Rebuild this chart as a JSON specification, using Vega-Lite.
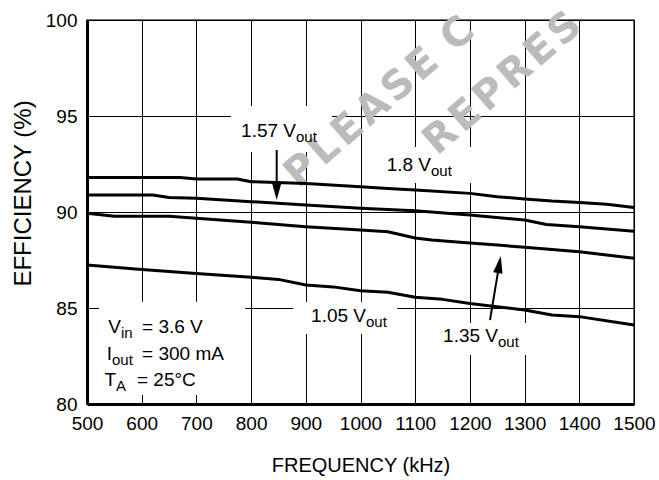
{
  "$schema": "https://vega.github.io/schema/vega-lite/v6.json",
  "width": 547,
  "height": 384,
  "autosize": {"type": "none"},
  "padding": {"left": 87, "top": 20, "right": 25, "bottom": 76},
  "background": "white",
  "config": {
    "font": "Liberation Sans",
    "view": {"stroke": "#444444", "strokeWidth": 1.5},
    "axis": {
      "grid": true, "gridColor": "black", "gridWidth": 1, "gridOpacity": 1,
      "domain": true, "domainColor": "black", "domainWidth": 3,
      "ticks": false, "tickSize": 0,
      "labelFont": "Liberation Sans", "labelFontSize": 19, "labelColor": "black",
      "labelPadding": 10, "labelOverlap": false, "labelFlush": false,
      "titleFont": "Liberation Sans", "titleFontWeight": "normal", "titleColor": "black"
    }
  },
  "datasets": {
    "curves": [
      {"series": "1.8", "freq": 500, "eff": 91.8},
      {"series": "1.8", "freq": 670, "eff": 91.8},
      {"series": "1.8", "freq": 700, "eff": 91.72},
      {"series": "1.8", "freq": 775, "eff": 91.72},
      {"series": "1.8", "freq": 800, "eff": 91.58},
      {"series": "1.8", "freq": 900, "eff": 91.49},
      {"series": "1.8", "freq": 1000, "eff": 91.32},
      {"series": "1.8", "freq": 1050, "eff": 91.22},
      {"series": "1.8", "freq": 1100, "eff": 91.15},
      {"series": "1.8", "freq": 1200, "eff": 90.97},
      {"series": "1.8", "freq": 1250, "eff": 90.8},
      {"series": "1.8", "freq": 1300, "eff": 90.68},
      {"series": "1.8", "freq": 1350, "eff": 90.57},
      {"series": "1.8", "freq": 1400, "eff": 90.5},
      {"series": "1.8", "freq": 1450, "eff": 90.4},
      {"series": "1.8", "freq": 1500, "eff": 90.24},
      {"series": "1.57", "freq": 500, "eff": 90.89},
      {"series": "1.57", "freq": 620, "eff": 90.89},
      {"series": "1.57", "freq": 650, "eff": 90.75},
      {"series": "1.57", "freq": 700, "eff": 90.72},
      {"series": "1.57", "freq": 800, "eff": 90.54},
      {"series": "1.57", "freq": 900, "eff": 90.36},
      {"series": "1.57", "freq": 1000, "eff": 90.2},
      {"series": "1.57", "freq": 1100, "eff": 90.07},
      {"series": "1.57", "freq": 1200, "eff": 89.84},
      {"series": "1.57", "freq": 1300, "eff": 89.58},
      {"series": "1.57", "freq": 1340, "eff": 89.35},
      {"series": "1.57", "freq": 1400, "eff": 89.23},
      {"series": "1.57", "freq": 1500, "eff": 89.0},
      {"series": "1.35", "freq": 500, "eff": 89.93},
      {"series": "1.35", "freq": 550, "eff": 89.78},
      {"series": "1.35", "freq": 650, "eff": 89.78},
      {"series": "1.35", "freq": 700, "eff": 89.67},
      {"series": "1.35", "freq": 800, "eff": 89.46},
      {"series": "1.35", "freq": 900, "eff": 89.23},
      {"series": "1.35", "freq": 1000, "eff": 89.06},
      {"series": "1.35", "freq": 1050, "eff": 88.97},
      {"series": "1.35", "freq": 1100, "eff": 88.65},
      {"series": "1.35", "freq": 1130, "eff": 88.54},
      {"series": "1.35", "freq": 1200, "eff": 88.38},
      {"series": "1.35", "freq": 1250, "eff": 88.28},
      {"series": "1.35", "freq": 1300, "eff": 88.16},
      {"series": "1.35", "freq": 1400, "eff": 87.93},
      {"series": "1.35", "freq": 1500, "eff": 87.59},
      {"series": "1.05", "freq": 500, "eff": 87.24},
      {"series": "1.05", "freq": 600, "eff": 87.01},
      {"series": "1.05", "freq": 700, "eff": 86.8},
      {"series": "1.05", "freq": 800, "eff": 86.6},
      {"series": "1.05", "freq": 850, "eff": 86.49},
      {"series": "1.05", "freq": 900, "eff": 86.2},
      {"series": "1.05", "freq": 950, "eff": 86.1},
      {"series": "1.05", "freq": 1000, "eff": 85.9},
      {"series": "1.05", "freq": 1050, "eff": 85.82},
      {"series": "1.05", "freq": 1100, "eff": 85.56},
      {"series": "1.05", "freq": 1150, "eff": 85.45},
      {"series": "1.05", "freq": 1200, "eff": 85.24},
      {"series": "1.05", "freq": 1300, "eff": 84.9},
      {"series": "1.05", "freq": 1350, "eff": 84.64},
      {"series": "1.05", "freq": 1400, "eff": 84.55},
      {"series": "1.05", "freq": 1500, "eff": 84.11}
    ],
    "boxes": [
      {"freq": 763, "freq2": 948, "eff": 95.52, "eff2": 93.12},
      {"freq": 1063, "freq2": 1211, "eff": 93.39, "eff2": 91.51},
      {"freq": 877, "freq2": 1067, "eff": 85.31, "eff2": 83.65},
      {"freq": 1154, "freq2": 1313, "eff": 84.22, "eff2": 82.55},
      {"freq": 522, "freq2": 789, "eff": 85.33, "eff2": 80.47}
    ],
    "labels": [
      {"freq": 882.1, "eff": 93.91, "text": "1.57 V", "part": "main"},
      {"freq": 882.1, "eff": 93.91, "text": "out", "part": "sub"},
      {"freq": 1128.9, "eff": 92.14, "text": "1.8 V", "part": "main"},
      {"freq": 1128.9, "eff": 92.14, "text": "out", "part": "sub"},
      {"freq": 1010.1, "eff": 84.27, "text": "1.05 V", "part": "main"},
      {"freq": 1010.1, "eff": 84.27, "text": "out", "part": "sub"},
      {"freq": 1251.4, "eff": 83.23, "text": "1.35 V", "part": "main"},
      {"freq": 1251.4, "eff": 83.23, "text": "out", "part": "sub"},
      {"freq": 562.2, "eff": 83.7, "text": "V", "part": "main"},
      {"freq": 562.2, "eff": 83.7, "text": "in", "part": "sub"},
      {"freq": 600.6, "eff": 83.7, "text": "= 3.6 V", "part": "rest"},
      {"freq": 545.7, "eff": 82.29, "text": "I", "part": "main"},
      {"freq": 545.7, "eff": 82.29, "text": "out", "part": "sub"},
      {"freq": 600.6, "eff": 82.29, "text": "= 300 mA", "part": "rest"},
      {"freq": 553.0, "eff": 80.95, "text": "T", "part": "main"},
      {"freq": 553.0, "eff": 80.95, "text": "A", "part": "sub"},
      {"freq": 591.4, "eff": 80.95, "text": "= 25°C", "part": "rest"}
    ],
    "arrows": [
      {"freq": 846.8, "eff": 93.23, "freq2": 846.8, "eff2": 91.3},
      {"freq": 1236.8, "eff": 84.375, "freq2": 1253.5, "eff2": 87.245}
    ],
    "heads": [
      {"freq": 846.8, "eff": 90.625, "dir": "down"},
      {"freq": 1256.3, "eff": 87.71, "dir": "up"}
    ],
    "watermark": [
      {"freq": 886, "eff": 91.2, "text": "P\u200aL\u200aE\u200aA\u200aS\u200aE\u00a0\u200aC"},
      {"freq": 1140, "eff": 92.9, "text": "R\u200aE\u200aP\u200aR\u200aE\u200aS"}
    ]
  },
  "encoding": {
    "x": {
      "field": "freq", "type": "quantitative",
      "scale": {"domain": [500, 1500], "nice": false, "zero": false},
      "axis": {
        "values": [500, 600, 700, 800, 900, 1000, 1100, 1200, 1300, 1400, 1500],
        "format": "d",
        "title": "FREQUENCY (kHz)", "titleFontSize": 20, "titlePadding": 22
      }
    },
    "y": {
      "field": "eff", "type": "quantitative",
      "scale": {"domain": [80, 100], "nice": false, "zero": false},
      "axis": {
        "values": [80, 85, 90, 95, 100],
        "format": "d",
        "title": "EFFICIENCY (%)", "titleFontSize": 24, "titlePadding": 10,
        "titleY": 173
      }
    }
  },
  "layer": [
    {
      "data": {"name": "boxes"},
      "mark": {"type": "rect", "fill": "white", "stroke": null},
      "encoding": {
        "x2": {"field": "freq2"},
        "y2": {"field": "eff2"}
      }
    },
    {
      "data": {"name": "watermark"},
      "mark": {"type": "text", "align": "left", "baseline": "alphabetic", "angle": -41,
               "font": "DejaVu Sans", "fontSize": 40, "fontWeight": "bold", "color": "#bbbbbb"},
      "encoding": {"text": {"field": "text"}}
    },
    {
      "data": {"name": "curves"},
      "mark": {"type": "line", "color": "black", "strokeWidth": 3, "strokeJoin": "round"},
      "encoding": {"detail": {"field": "series"}}
    },
    {
      "data": {"name": "arrows"},
      "mark": {"type": "rule", "color": "black", "strokeWidth": 2},
      "encoding": {
        "x2": {"field": "freq2"},
        "y2": {"field": "eff2"}
      }
    },
    {
      "data": {"name": "heads"},
      "transform": [{"filter": "datum.dir === 'down'"}],
      "mark": {"type": "point", "shape": "M0,0L-0.55,2L0.55,2Z", "filled": true,
               "color": "black", "opacity": 1, "size": 324, "angle": 180, "strokeWidth": 0}
    },
    {
      "data": {"name": "heads"},
      "transform": [{"filter": "datum.dir === 'up'"}],
      "mark": {"type": "point", "shape": "M0,0L-0.55,2L0.55,2Z", "filled": true,
               "color": "black", "opacity": 1, "size": 300, "angle": 9.5, "strokeWidth": 0}
    },
    {
      "data": {"name": "labels"},
      "transform": [{"filter": "datum.part === 'main'"}],
      "mark": {"type": "text", "align": "right", "baseline": "alphabetic", "fontSize": 19, "color": "black"},
      "encoding": {"text": {"field": "text"}}
    },
    {
      "data": {"name": "labels"},
      "transform": [{"filter": "datum.part === 'sub'"}],
      "mark": {"type": "text", "align": "left", "baseline": "alphabetic", "fontSize": 15, "dy": 5, "color": "black"},
      "encoding": {"text": {"field": "text"}}
    },
    {
      "data": {"name": "labels"},
      "transform": [{"filter": "datum.part === 'rest'"}],
      "mark": {"type": "text", "align": "left", "baseline": "alphabetic", "fontSize": 19, "color": "black"},
      "encoding": {"text": {"field": "text"}}
    }
  ]
}
